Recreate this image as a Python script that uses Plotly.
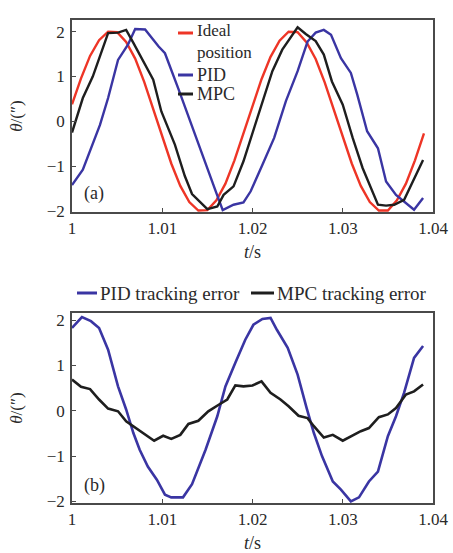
import plotly.graph_objects as go

W, H = 453, 553

# ---------------- data ----------------
# (a) ideal position
t_ideal = [1.000, 1.001, 1.002, 1.003, 1.004, 1.005, 1.006, 1.007, 1.008, 1.009,
           1.010, 1.011, 1.012, 1.013, 1.014, 1.015, 1.016, 1.017, 1.018, 1.019,
           1.020, 1.021, 1.022, 1.023, 1.024, 1.025, 1.026, 1.027, 1.028, 1.029,
           1.030, 1.031, 1.032, 1.033, 1.034, 1.035, 1.036, 1.037, 1.038, 1.039]
y_ideal = [0.38, 0.96, 1.46, 1.81, 2.00, 1.99, 1.77, 1.40, 0.88, 0.28,
           -0.35, -0.94, -1.44, -1.80, -1.99, -1.98, -1.76, -1.39, -0.87, -0.28,
           0.35, 0.94, 1.44, 1.80, 2.00, 1.99, 1.76, 1.39, 0.87, 0.28,
           -0.35, -0.94, -1.44, -1.80, -1.99, -1.99, -1.76, -1.39, -0.87, -0.27]

# (a) PID position
t_pid = [1.0000, 1.0012, 1.0031, 1.0040, 1.0051, 1.0062, 1.0070, 1.0081, 1.0096, 1.0103,
         1.0118, 1.0130, 1.0140, 1.0150, 1.0160, 1.0167, 1.0179, 1.0190, 1.0198, 1.0211,
         1.0224, 1.0237, 1.0250, 1.0261, 1.0270, 1.0279, 1.0287, 1.0298, 1.0309, 1.0316,
         1.0327, 1.0339, 1.0348, 1.0359, 1.0379, 1.0389]
y_pid = [-1.42, -1.08, -0.08, 0.52, 1.37, 1.71, 2.06, 2.05, 1.67, 1.52,
         0.72, 0.05, -0.52, -1.08, -1.60, -1.98, -1.86, -1.81, -1.56, -0.97,
         -0.37, 0.45, 1.12, 1.78, 1.98, 2.04, 1.93, 1.41, 1.08, 0.60,
         -0.22, -0.60, -1.34, -1.64, -1.97, -1.71]

# (a) MPC position
t_mpc = [1.0000, 1.0012, 1.0023, 1.0033, 1.0040, 1.0051, 1.0060, 1.0068, 1.0079, 1.0090,
         1.0099, 1.0114, 1.0125, 1.0133, 1.0150, 1.0161, 1.0168, 1.0179, 1.0190, 1.0203,
         1.0213, 1.0222, 1.0233, 1.0250, 1.0259, 1.0270, 1.0279, 1.0288, 1.0300, 1.0311,
         1.0322, 1.0331, 1.0339, 1.0348, 1.0357, 1.0368, 1.0389]
y_mpc = [-0.25, 0.52, 1.00, 1.56, 1.97, 1.98, 2.04, 1.75, 1.34, 0.93,
         0.22, -0.52, -1.22, -1.62, -1.96, -1.90, -1.64, -1.45, -0.89, -0.08,
         0.52, 1.12, 1.60, 2.10, 1.95, 1.79, 1.49, 0.89, 0.37, -0.37,
         -1.04, -1.49, -1.86, -1.88, -1.86, -1.75, -0.86]

# (b) PID tracking error
t_pid_err = [1.0000, 1.0011, 1.0021, 1.0030, 1.0040, 1.0051, 1.0060, 1.0068, 1.0075, 1.0084,
             1.0094, 1.0103, 1.0110, 1.0123, 1.0133, 1.0148, 1.0161, 1.0170, 1.0181, 1.0192,
             1.0201, 1.0211, 1.0220, 1.0227, 1.0239, 1.0250, 1.0260, 1.0268, 1.0277, 1.0289,
             1.0298, 1.0309, 1.0318, 1.0329, 1.0339, 1.0350, 1.0359, 1.0368, 1.0379, 1.0389]
y_pid_err = [1.83, 2.07, 1.98, 1.83, 1.35, 0.54, 0.03, -0.49, -0.86, -1.23,
             -1.52, -1.85, -1.91, -1.91, -1.62, -0.86, -0.12, 0.54, 1.06, 1.57,
             1.90, 2.03, 2.05, 1.79, 1.39, 0.80, 0.06, -0.49, -1.00, -1.56,
             -1.74, -2.00, -1.91, -1.56, -1.34, -0.56, -0.12, 0.40, 1.17, 1.43]

# (b) MPC tracking error
t_mpc_err = [1.0000, 1.0010, 1.0020, 1.0030, 1.0040, 1.0051, 1.0060, 1.0071, 1.0081, 1.0091,
             1.0101, 1.0110, 1.0120, 1.0129, 1.0140, 1.0151, 1.0163, 1.0172, 1.0181, 1.0190,
             1.0200, 1.0210, 1.0220, 1.0231, 1.0240, 1.0251, 1.0261, 1.0268, 1.0279, 1.0289,
             1.0300, 1.0309, 1.0320, 1.0329, 1.0340, 1.0350, 1.0359, 1.0370, 1.0379, 1.0389]
y_mpc_err = [0.69, 0.53, 0.48, 0.25, 0.05, -0.01, -0.23, -0.38, -0.53, -0.66,
             -0.55, -0.62, -0.53, -0.29, -0.22, -0.01, 0.14, 0.25, 0.56, 0.54,
             0.56, 0.65, 0.40, 0.25, 0.10, -0.11, -0.16, -0.34, -0.59, -0.53,
             -0.66, -0.56, -0.45, -0.38, -0.14, -0.08, 0.06, 0.36, 0.43, 0.58]

x_tickvals = [1.00, 1.01, 1.02, 1.03, 1.04]
x_ticktext = ["1", "1.01", "1.02", "1.03", "1.04"]
y_tickvals = [-2, -1, 0, 1, 2]

names_a = ["Ideal<br>position", "PID", "MPC"]
names_b = ["PID tracking error", "MPC tracking error"]

# ---------------- style ----------------
RED = "#ee3526"
BLUE = "#3a35a3"
BLACK = "#1e1e1e"
FONT = "Liberation Serif"
TXT = "#2a2a2a"


def fx(px):
    return px / W


def fy(py):
    return 1 - py / H


fig = go.Figure()
fig.add_trace(go.Scatter(x=t_ideal, y=y_ideal, mode="lines", name="Ideal position",
                         line=dict(color=RED, width=2.4), xaxis="x", yaxis="y"))
fig.add_trace(go.Scatter(x=t_pid, y=y_pid, mode="lines", name=names_a[1],
                         line=dict(color=BLUE, width=2.4), xaxis="x", yaxis="y"))
fig.add_trace(go.Scatter(x=t_mpc, y=y_mpc, mode="lines", name=names_a[2],
                         line=dict(color=BLACK, width=2.4), xaxis="x", yaxis="y"))
fig.add_trace(go.Scatter(x=t_pid_err, y=y_pid_err, mode="lines", name=names_b[0],
                         line=dict(color=BLUE, width=2.6), xaxis="x2", yaxis="y2"))
fig.add_trace(go.Scatter(x=t_mpc_err, y=y_mpc_err, mode="lines", name=names_b[1],
                         line=dict(color=BLACK, width=2.6), xaxis="x2", yaxis="y2"))

axis_common = dict(
    showline=True, mirror=True, linecolor="#4a4a4a", linewidth=1.5,
    ticks="inside", ticklen=4, tickwidth=1, tickcolor="#4a4a4a",
    showgrid=False, zeroline=False, automargin=False,
    tickfont=dict(family=FONT, size=17, color=TXT),
)

xdom = [fx(72), fx(433)]
fig.update_layout(
    width=W, height=H,
    margin=dict(l=0, r=0, t=0, b=0),
    paper_bgcolor="white", plot_bgcolor="white",
    showlegend=False,
    xaxis=dict(domain=xdom, range=[1.0, 1.04], anchor="y",
               tickvals=x_tickvals, ticktext=x_ticktext,
               title=dict(text="<i>t</i>/s", font=dict(family=FONT, size=18, color=TXT), standoff=8),
               **axis_common),
    yaxis=dict(domain=[fy(212), fy(20)], range=[-2.022, 2.261], anchor="x",
               tickvals=y_tickvals, ticklabelstandoff=2,
               title=dict(text="<i>θ</i>/(″)", font=dict(family=FONT, size=17, color=TXT), standoff=20),
               **axis_common),
    xaxis2=dict(domain=xdom, range=[1.0, 1.04], anchor="y2",
                tickvals=x_tickvals, ticktext=x_ticktext,
                title=dict(text="<i>t</i>/s", font=dict(family=FONT, size=18, color=TXT), standoff=10),
                **axis_common),
    yaxis2=dict(domain=[fy(503), fy(313)], range=[-2.035, 2.16], anchor="x2",
                tickvals=y_tickvals, ticklabelstandoff=2,
                title=dict(text="<i>θ</i>/(″)", font=dict(family=FONT, size=17, color=TXT), standoff=20),
                **axis_common),
)

# ---------------- manual legends ----------------
shapes = []
annotations = []


def legend_item(x0, x1, yc, color, label, text_x, ty=None, font_size=19):
    shapes.append(dict(type="line", xref="paper", yref="paper",
                       x0=fx(x0), x1=fx(x1), y0=fy(yc), y1=fy(yc),
                       line=dict(color=color, width=3)))
    annotations.append(dict(xref="paper", yref="paper", x=fx(text_x),
                            y=fy(yc if ty is None else ty),
                            xanchor="left", yanchor="middle", showarrow=False,
                            align="left", text=label, borderpad=0,
                            font=dict(family=FONT, size=font_size, color=TXT)))


# (a) legend; "Ideal position" wraps onto two lines
legend_item(178, 193, 33, RED, names_a[0], 196, ty=42, font_size=17)
legend_item(178, 193, 75, BLUE, names_a[1], 196, font_size=18)
legend_item(178, 193, 94, BLACK, names_a[2], 196, font_size=18)

# (b) legend
legend_item(77, 97, 293, BLUE, names_b[0], 99)
legend_item(251, 274, 293, BLACK, names_b[1], 276)

# panel labels
annotations.append(dict(xref="paper", yref="paper", x=fx(82), y=fy(193), xanchor="left",
                        yanchor="middle", showarrow=False, text="(a)",
                        font=dict(family=FONT, size=18, color=TXT)))
annotations.append(dict(xref="paper", yref="paper", x=fx(82), y=fy(485), xanchor="left",
                        yanchor="middle", showarrow=False, text="(b)",
                        font=dict(family=FONT, size=18, color=TXT)))

fig.update_layout(shapes=shapes, annotations=annotations)

fig.write_html("out.html")
